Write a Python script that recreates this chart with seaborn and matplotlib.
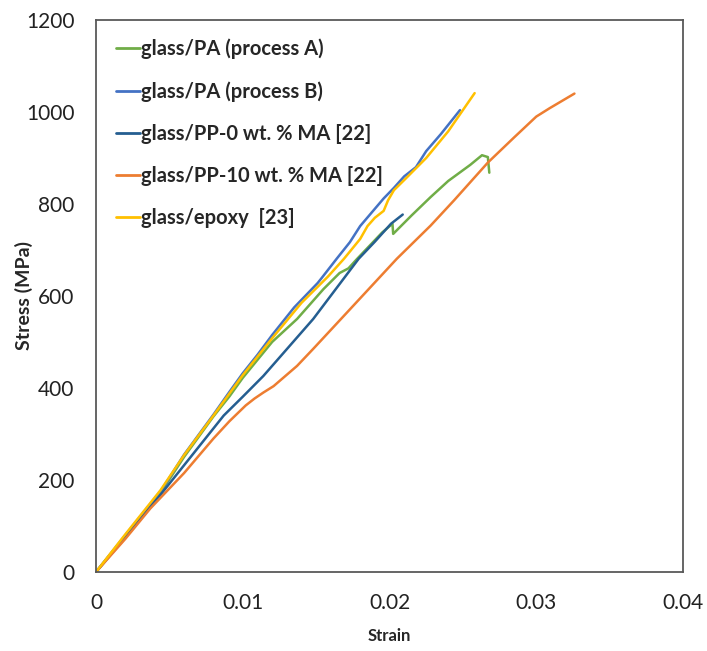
import pandas as pd
import numpy as np
import matplotlib.pyplot as plt
import seaborn as sns
from matplotlib.ticker import MultipleLocator

# Data
strain_pa_a = [0, 0.002, 0.0044, 0.006, 0.008, 0.0091, 0.01, 0.012, 0.0137, 0.0155, 0.0166, 0.0172,
               0.0178, 0.0195, 0.0202, 0.02025, 0.0215, 0.0228, 0.024, 0.0255, 0.0263, 0.0267, 0.0268]
stress_pa_a = [0, 78, 172, 250, 338, 382, 422, 500, 550, 615, 650, 660,
               681, 738, 757, 735, 775, 815, 850, 885, 906, 902, 868]

strain_pa_b = [0, 0.002, 0.0044, 0.006, 0.008, 0.0091, 0.01, 0.011, 0.012, 0.0135, 0.0151,
               0.0154, 0.0164, 0.0173, 0.018, 0.0196, 0.0203, 0.021, 0.0218, 0.0225, 0.0235, 0.0248]
stress_pa_b = [0, 80, 175, 255, 342, 392, 432, 472, 515, 575, 628,
               640, 681, 717, 752, 812, 835, 860, 880, 915, 952, 1004]

strain_pp0 = [0, 0.002, 0.0044, 0.006, 0.0087, 0.01, 0.0114, 0.0148, 0.0179, 0.019,
              0.0201, 0.0209]
stress_pp0 = [0, 75, 168, 232, 340, 381, 426, 550, 681, 718,
              757, 777]

strain_pp10 = [0, 0.002, 0.0037, 0.006, 0.008, 0.0091, 0.0102, 0.0108, 0.0114, 0.0121, 0.0137,
               0.0148, 0.0171, 0.0205, 0.0228, 0.0244, 0.0267, 0.0285, 0.03, 0.0309, 0.0326]
stress_pp10 = [0, 72, 138, 215, 290, 328, 362, 377, 390, 404, 448,
               485, 564, 681, 753, 808, 890, 945, 990, 1008, 1040]

strain_epoxy = [0, 0.002, 0.0044, 0.006, 0.008, 0.01, 0.012, 0.014, 0.0158, 0.0169, 0.018,
                0.0185, 0.019, 0.0196, 0.0199, 0.0203, 0.021, 0.0225, 0.024, 0.0258]
stress_epoxy = [0, 82, 178, 254, 340, 428, 508, 585, 642, 681, 724,
                752, 770, 785, 808, 830, 852, 900, 958, 1041]

labels = ["glass/PA (process A)", "glass/PA (process B)", "glass/PP-0 wt. % MA [22]",
          "glass/PP-10 wt. % MA [22]", "glass/epoxy  [23]"]
colors = ["#70AD47", "#4472C4", "#255E91", "#ED7D31", "#FFC000"]

series = [(strain_pa_a, stress_pa_a), (strain_pa_b, stress_pa_b), (strain_pp0, stress_pp0),
          (strain_pp10, stress_pp10), (strain_epoxy, stress_epoxy)]
frames = []
for lab, (x, y) in zip(labels, series):
    frames.append(pd.DataFrame({"Strain": x, "Stress": y, "Material": lab}))
data = pd.concat(frames, ignore_index=True)

sns.set_style("white")
plt.rcParams["font.family"] = ["Lato", "DejaVu Sans"]

fig = plt.figure(figsize=(7.07, 6.51), dpi=100)
ax = fig.add_axes([0.1358, 0.1214, 0.9661 - 0.1358, 0.9693 - 0.1214])

sns.lineplot(data=data, x="Strain", y="Stress", hue="Material", hue_order=labels,
             palette=colors, sort=False, estimator=None, units="Material",
             linewidth=1.8, ax=ax)

ax.set_xlim(0, 0.04)
ax.set_ylim(0, 1200)
ax.xaxis.set_minor_locator(MultipleLocator(0.002))
ax.yaxis.set_major_locator(MultipleLocator(200))
ax.yaxis.set_minor_locator(MultipleLocator(40))
ax.set_xticks([0, 0.01, 0.02, 0.03, 0.04])
ax.set_xticklabels(["0", "0.01", "0.02", "0.03", "0.04"])

for s in ax.spines.values():
    s.set_color("#595959")
    s.set_linewidth(1.3)
ax.tick_params(which="both", direction="in", color="#595959", width=1.2,
               labelsize=15, labelcolor="#222222")
ax.tick_params(which="major", length=6)
ax.tick_params(which="minor", length=5)
ax.tick_params(axis="x", which="both", pad=15)
ax.tick_params(axis="y", which="both", pad=15.5)

ax.set_xlabel("Strain", fontsize=12, fontweight="bold")
ax.set_ylabel("Stress (MPa)", fontsize=14, fontweight="bold")
ax.xaxis.set_label_coords(0.5, -0.101)
ax.yaxis.set_label_coords(-0.107, 0.5)

leg = ax.legend(loc="upper left", frameon=False,
                prop={"weight": "bold", "size": 14.5},
                handlelength=1.2, handletextpad=0.05, labelspacing=1.1,
                borderaxespad=0.0, bbox_to_anchor=(0.02, 0.981))
for line in leg.get_lines():
    line.set_linewidth(2)

fig.savefig("out.png", dpi=100)
